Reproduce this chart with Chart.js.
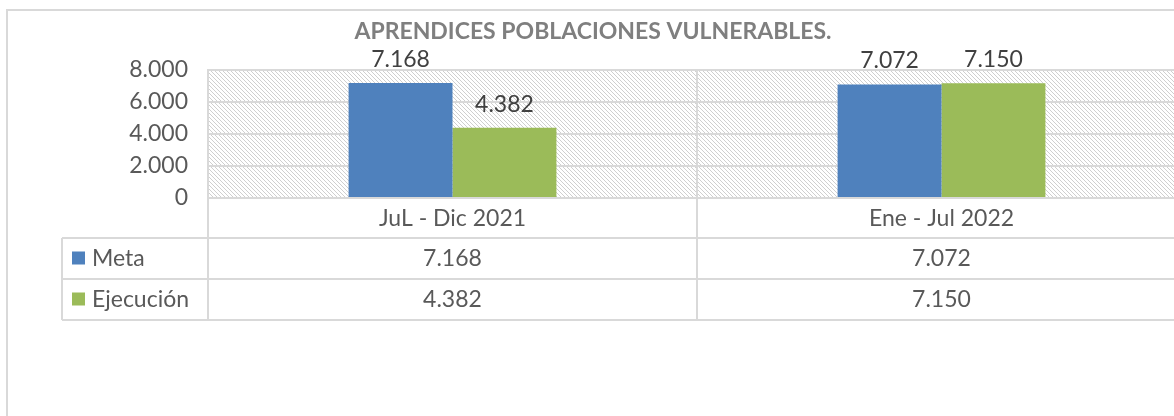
<!DOCTYPE html>
<html>
<head>
<meta charset="utf-8">
<script src="https://cdn.jsdelivr.net/npm/chart.js@4.4.1/dist/chart.umd.min.js"></script>
<style>
  html, body { margin: 0; padding: 0; background: #fff; overflow: hidden; }
  #frame {
    position: absolute; left: 6px; top: 9px; width: 1220px; height: 440px;
    border: 2px solid #d9d9d9; box-sizing: border-box;
  }
  #wrap { position: absolute; left: 0; top: 0; width: 1200px; height: 416px; }
</style>
</head>
<body>
<div id="frame"></div>
<div id="wrap"><canvas id="chart"></canvas></div>
<script>
// ── datos ──────────────────────────────────────────────────────────────
const CATEGORIES = ["JuL - Dic 2021", "Ene - Jul 2022"];
const META       = [7168, 7072];
const EJECUCION  = [4382, 7150];
const Y_TICKS    = [0, 2000, 4000, 6000, 8000];

const SERIES = [
  { label: "Meta",      data: META,      color: "#4f81bd" },
  { label: "Ejecución", data: EJECUCION, color: "#9bbb59" },
];

const FONT = "Lato, 'Open Sans', sans-serif";
const FS = 23;
const TXT = "#595959";
const LINE = "#d9d9d9";

const fmt = (v) => v.toLocaleString("de-DE");

// ── fondo rayado del área de trazado ────────────────────────────────────
function hatchPattern(ctx) {
  const c = document.createElement("canvas");
  c.width = 4; c.height = 4;
  const g = c.getContext("2d");
  g.fillStyle = "#fff";
  g.fillRect(0, 0, 4, 4);
  g.strokeStyle = "#cfcfcf";
  g.lineWidth = 1;
  g.beginPath();
  g.moveTo(-1, -1); g.lineTo(5, 5);
  g.moveTo(-1, 3); g.lineTo(1, 5);
  g.moveTo(3, -1); g.lineTo(5, 1);
  g.stroke();
  return ctx.createPattern(c, "repeat");
}

const hatchPlugin = {
  id: "hatch",
  beforeDraw(chart) {
    const { ctx, chartArea: a } = chart;
    ctx.save();
    ctx.fillStyle = hatchPattern(ctx);
    ctx.fillRect(a.left, a.top, a.right - a.left, a.bottom - a.top);
    ctx.restore();
  },
};

// etiquetas de valor sobre las barras
const valueLabels = {
  id: "valueLabels",
  afterDatasetsDraw(chart) {
    const { ctx } = chart;
    ctx.save();
    ctx.font = FS + "px " + FONT;
    ctx.fillStyle = "#404040";
    ctx.textAlign = "center";
    ctx.textBaseline = "bottom";
    chart.data.datasets.forEach((ds, di) => {
      chart.getDatasetMeta(di).data.forEach((bar, i) => {
        ctx.fillText(fmt(ds.data[i]), bar.x, bar.y - 12);
      });
    });
    ctx.restore();
  },
};

// tabla de datos bajo el eje (estilo Excel)
const dataTable = {
  id: "dataTable",
  afterDraw(chart) {
    const { ctx, chartArea: a, scales: { x } } = chart;
    const axisBottom = x.bottom;
    const rowH = 41;
    const tableLeft = 62;
    const tableBottom = axisBottom + rowH * SERIES.length;
    const half = (x.getPixelForValue(1) - x.getPixelForValue(0)) / 2;

    ctx.save();
    ctx.strokeStyle = LINE;
    ctx.lineWidth = 2;
    ctx.beginPath();
    for (let r = 0; r <= SERIES.length; r++) {
      const y = axisBottom + r * rowH;
      ctx.moveTo(tableLeft, y);
      ctx.lineTo(chart.width, y);
    }
    ctx.moveTo(tableLeft, axisBottom);
    ctx.lineTo(tableLeft, tableBottom);
    CATEGORIES.forEach((_, i) => {
      const xl = x.getPixelForValue(i) - half;
      ctx.moveTo(xl, a.bottom);
      ctx.lineTo(xl, tableBottom);
    });
    const xr = x.getPixelForValue(CATEGORIES.length - 1) + half;
    ctx.moveTo(xr, a.bottom);
    ctx.lineTo(xr, tableBottom);
    ctx.stroke();

    ctx.font = FS + "px " + FONT;
    ctx.textBaseline = "middle";
    SERIES.forEach((s, r) => {
      const cy = axisBottom + r * rowH + rowH / 2;
      ctx.fillStyle = s.color;
      ctx.fillRect(72, cy - 7, 13, 13);
      ctx.fillStyle = TXT;
      ctx.textAlign = "left";
      ctx.fillText(s.label, 92, cy);
      ctx.textAlign = "center";
      s.data.forEach((v, i) => ctx.fillText(fmt(v), x.getPixelForValue(i), cy));
    });
    ctx.restore();
  },
};

new Chart(document.getElementById("chart"), {
  type: "bar",
  data: {
    labels: CATEGORIES,
    datasets: SERIES.map((s) => ({
      label: s.label,
      data: s.data,
      backgroundColor: s.color,
      borderWidth: 0,
      categoryPercentage: 0.425,
      barPercentage: 1,
    })),
  },
  options: {
    responsive: true,
    maintainAspectRatio: false,
    animation: false,
    layout: { padding: { left: 0, right: 14, top: 0, bottom: 178 } },
    plugins: {
      legend: { display: false },
      tooltip: { enabled: false },
      title: {
        display: true,
        text: "APRENDICES POBLACIONES VULNERABLES.",
        color: "#7f7f7f",
        font: { family: FONT, size: 23, weight: "bold" },
        padding: { top: 18, bottom: 24 },
      },
    },
    scales: {
      x: {
        offset: true,
        grid: { offset: true, color: LINE, lineWidth: 2, drawTicks: false },
        border: { display: false },
        ticks: { color: TXT, font: { family: FONT, size: FS }, padding: 7 },
        afterFit(scale) { scale.height = 40; },
      },
      y: {
        min: 0,
        max: 8000,
        afterBuildTicks(scale) { scale.ticks = Y_TICKS.map((v) => ({ value: v })); },
        grid: { color: LINE, lineWidth: 2, drawTicks: false },
        border: { display: true, color: LINE, width: 2 },
        ticks: {
          color: TXT,
          font: { family: FONT, size: FS },
          padding: 20,
          callback: (v) => fmt(v),
        },
        afterFit(scale) { scale.width = 208; },
      },
    },
  },
  plugins: [hatchPlugin, valueLabels, dataTable],
});
</script>
</body>
</html>
